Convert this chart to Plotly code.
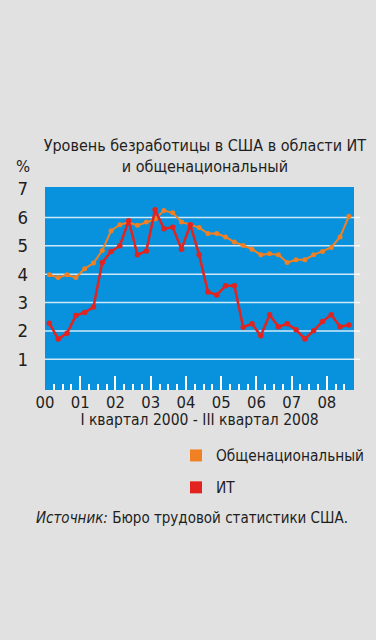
import plotly.graph_objects as go

# Quarterly periods: I 2000 ... III 2008
years = [2000]*4 + [2001]*4 + [2002]*4 + [2003]*4 + [2004]*4 + [2005]*4 + [2006]*4 + [2007]*4 + [2008]*3
quarters = [1, 2, 3, 4]*8 + [1, 2, 3]

national = [3.98, 3.88, 3.98, 3.88, 4.19, 4.39, 4.83, 5.53, 5.74, 5.83, 5.72, 5.84,
            5.94, 6.24, 6.16, 5.84, 5.75, 5.64, 5.43, 5.43, 5.31, 5.13, 5.01, 4.88,
            4.68, 4.72, 4.68, 4.41, 4.51, 4.51, 4.68, 4.80, 4.94, 5.31, 6.04]
it = [2.27, 1.72, 1.92, 2.54, 2.65, 2.84, 4.41, 4.80, 5.00, 5.88, 4.68, 4.82,
      6.27, 5.60, 5.65, 4.88, 5.74, 4.68, 3.37, 3.27, 3.59, 3.59, 2.13, 2.25,
      1.83, 2.57, 2.15, 2.25, 2.04, 1.72, 2.01, 2.33, 2.57, 2.15, 2.21]

year_ticks = [2000, 2001, 2002, 2003, 2004, 2005, 2006, 2007, 2008]
year_labels = ["00", "01", "02", "03", "04", "05", "06", "07", "08"]
y_ticks = [1, 2, 3, 4, 5, 6, 7]
grid_vals = [1, 2, 3, 4, 5, 6]

title_text = "Уровень безработицы в США в области ИТ<br>и общенациональный"
x_title = "I квартал 2000 - III квартал 2008"
source_text = "<i>Источник:</i> Бюро трудовой статистики США."
name_nat = "Общенациональный"
name_it = "ИТ"

ORANGE = "#f08022"
RED = "#e2231f"
BLUE = "#0891dc"
BG = "#e1e1e1"
GRID = "rgba(255,255,255,0.8)"
FONT = "Liberation Sans Narrow, DejaVu Sans Condensed, Roboto, sans-serif"
TXT = "#1e1e1e"

x = [y + (q - 0.5) / 4 for y, q in zip(years, quarters)]

fig = go.Figure()
fig.add_trace(go.Scatter(x=x, y=national, mode="lines+markers", showlegend=False,
                         line=dict(color=ORANGE, width=2),
                         marker=dict(color=ORANGE, size=5)))
fig.add_trace(go.Scatter(x=x, y=it, mode="lines+markers", showlegend=False,
                         line=dict(color=RED, width=2.5),
                         marker=dict(color=RED, size=5.5)))
# legend swatches (square markers)
fig.add_trace(go.Scatter(x=[None], y=[None], mode="markers", name=name_nat,
                         legendgroup="a",
                         marker=dict(color=ORANGE, size=12, symbol="square")))
fig.add_trace(go.Scatter(x=[None], y=[None], mode="markers", name=name_it,
                         legendgroup="b",
                         marker=dict(color=RED, size=12, symbol="square")))

# white gridlines (1..6), running slightly past the plot on the right
for v in grid_vals:
    fig.add_shape(type="line", xref="paper", yref="y", x0=0, x1=1.02, y0=v, y1=v,
                  layer="below", line=dict(color=GRID, width=1.5))

fig.update_layout(
    width=376, height=640, autosize=False,
    paper_bgcolor=BG, plot_bgcolor=BLUE,
    margin=dict(l=45, r=22, t=187, b=250, autoexpand=False),
    font=dict(family=FONT, color=TXT, size=17),
    title=dict(text=title_text, x=0.545, xanchor="center", y=1 - 151/640,
               yanchor="top", font=dict(size=16, family=FONT, color=TXT)),
    legend=dict(xref="container", yref="container", x=176/376, xanchor="left",
                y=1 - 439/640, yanchor="top",
                bgcolor="rgba(0,0,0,0)", font=dict(size=15.3, family=FONT, color=TXT),
                tracegroupgap=9, itemsizing="trace"),
    xaxis=dict(range=[2000, 2008.77], tickvals=year_ticks, ticktext=year_labels,
               showgrid=False, zeroline=False, showline=False,
               ticks="inside", ticklen=14, tickwidth=1.5, tickcolor="white",
               tickfont=dict(size=16.5, family=FONT, color=TXT),
               minor=dict(dtick=0.25, tick0=2000, ticks="inside", ticklen=6,
                          tickwidth=1.5, tickcolor="white", showgrid=False),
               title=dict(text=x_title, font=dict(size=15.5, family=FONT, color=TXT),
                          standoff=3)),
    yaxis=dict(range=[-0.08, 7.07], tickvals=y_ticks, showgrid=False,
               zeroline=False, showline=False, ticks="", ticklabelstandoff=16,
               tickfont=dict(size=18.5, family=FONT, color=TXT)),
)
fig.add_annotation(text="%", xref="paper", yref="paper", x=-0.07, y=1 + 20/203,
                   xanchor="center", yanchor="middle", showarrow=False,
                   font=dict(size=16.5, family=FONT, color=TXT))
fig.add_annotation(text=source_text, xref="paper", yref="paper",
                   x=(192 - 45) / 309, y=-(518 - 390) / 203,
                   xanchor="center", yanchor="middle", showarrow=False,
                   font=dict(size=15, family=FONT, color=TXT))
fig.write_html("out.html", config={"displayModeBar": False},
               post_script="document.body.style.margin='0';document.body.style.overflow='hidden';")
